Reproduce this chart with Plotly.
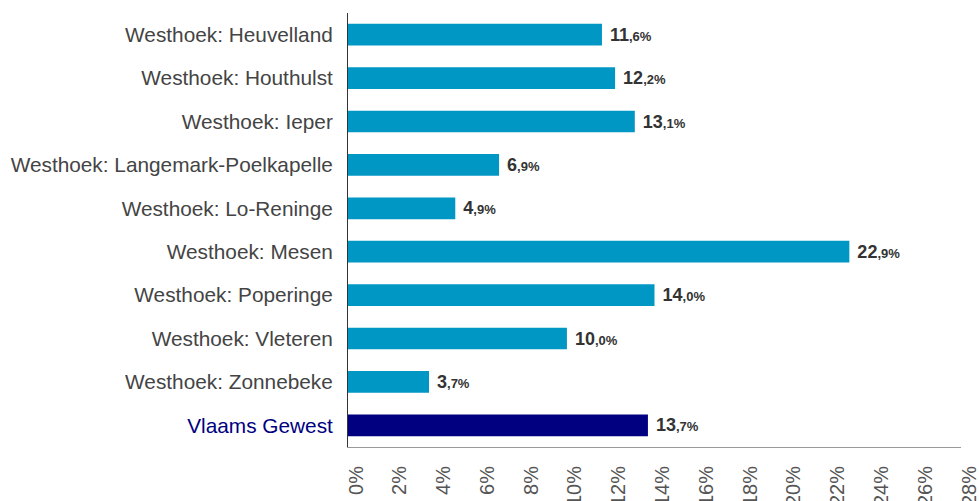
import plotly.graph_objects as go

categories = [
    "Westhoek: Heuvelland",
    "Westhoek: Houthulst",
    "Westhoek: Ieper",
    "Westhoek: Langemark-Poelkapelle",
    "Westhoek: Lo-Reninge",
    "Westhoek: Mesen",
    "Westhoek: Poperinge",
    "Westhoek: Vleteren",
    "Westhoek: Zonnebeke",
    "Vlaams Gewest",
]
values = [11.6, 12.2, 13.1, 6.9, 4.9, 22.9, 14.0, 10.0, 3.7, 13.7]
bar_colors = ["#0097C4"] * 9 + ["#000080"]
tick_vals = list(range(0, 29, 2))
tick_text = [f"{v}%" for v in tick_vals]


def label(v):
    whole, dec = f"{v:.1f}".split(".")
    return (f" <b>{whole}</b><b><span style='font-size:13px'>,{dec}%</span></b>")


texts = [label(v) for v in values]

fig = go.Figure(
    go.Bar(
        x=values,
        y=categories,
        orientation="h",
        marker=dict(color=bar_colors, line=dict(width=0)),
        width=0.5,
        text=texts,
        textposition="outside",
        textfont=dict(family="Liberation Sans, Arial", size=18, color="#333333"),
        cliponaxis=False,
        hoverinfo="skip",
    )
)

fig.update_layout(
    width=979,
    height=501,
    margin=dict(l=348, r=18, t=13, b=54, autoexpand=False),
    paper_bgcolor="white",
    plot_bgcolor="white",
    showlegend=False,
    font=dict(family="Liberation Sans, Arial", size=20, color="#444444"),
)

fig.update_yaxes(
    autorange="reversed",
    automargin=False,
    showgrid=False,
    showline=True,
    linecolor="#333333",
    linewidth=1,
    ticks="",
    ticklabelstandoff=10,
    tickfont=dict(size=20.8, color="#444444"),
    tickmode="array",
    tickvals=categories,
    ticktext=categories[:-1] + ["<span style='color:#000080'>Vlaams Gewest</span>"],
)

fig.update_xaxes(
    range=[0, 28],
    automargin=False,
    showgrid=False,
    zeroline=False,
    showline=True,
    linecolor="#999999",
    linewidth=1,
    ticks="",
    tickmode="array",
    tickvals=tick_vals,
    ticktext=tick_text,
    tickangle=-90,
    ticklabelstandoff=10,
    ticklabelshift=8,
    ticklabeloverflow="allow",
    tickfont=dict(size=20, color="#555555"),
)

fig.write_html("out.html")
